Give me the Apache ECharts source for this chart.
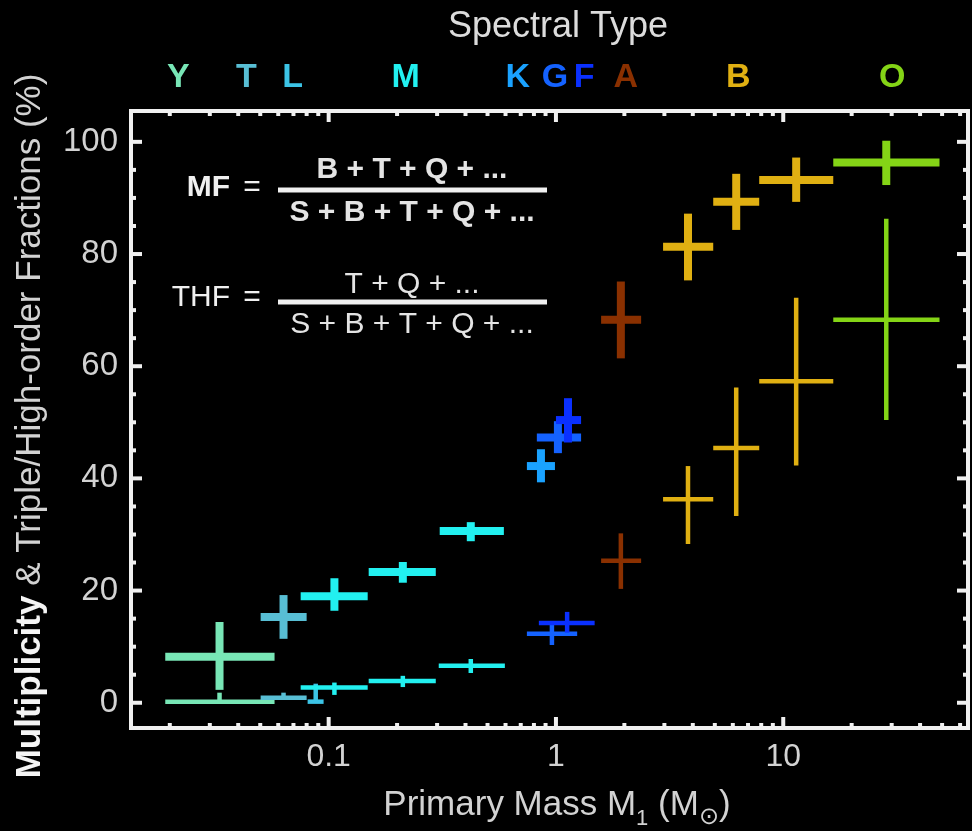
<!DOCTYPE html>
<html>
<head>
<meta charset="utf-8">
<script src="https://cdn.jsdelivr.net/npm/echarts@6/dist/echarts.min.js"></script>
<style>
  html, body { margin: 0; padding: 0; background: #000; }
  #main { width: 972px; height: 831px; }
</style>
</head>
<body>
<div id="main"></div>
<script>
// spectral types along the top and the primary mass each label sits over
var spectralTypes = ['Y', 'T', 'L', 'M', 'K', 'G', 'F', 'A', 'B', 'O'];
var spectralMass = [0.0218, 0.0435, 0.0694, 0.218, 0.68, 0.99, 1.33, 2.03, 6.34, 30.2];

// multiplicity fraction (thick crosses)
var mfType   = ['Y', 'T', 'M', 'M', 'M', 'K', 'G', 'F', 'A', 'B', 'B', 'B', 'O'];
var mfMass   = [0.0331, 0.0633, 0.106, 0.212, 0.422, 0.859, 1.02, 1.13, 1.93, 3.81, 6.21, 11.4, 28.4];
var mfMassLo = [0.0191, 0.0502, 0.0753, 0.150, 0.308, 0.745, 0.824, 1.00, 1.58, 2.96, 4.92, 7.84, 16.6];
var mfMassHi = [0.0578, 0.0800, 0.1485, 0.296, 0.590, 0.990, 1.29, 1.29, 2.37, 4.92, 7.84, 16.6, 48.7];
var mfValue  = [8.2, 15.3, 19.0, 23.3, 30.6, 42.2, 47.3, 50.4, 68.3, 81.3, 89.3, 93.2, 96.3];
var mfLo     = [2.3, 11.4, 16.4, 21.4, 28.8, 39.3, 44.5, 46.4, 61.4, 75.3, 84.3, 89.3, 92.3];
var mfHi     = [14.4, 19.2, 22.2, 25.1, 32.2, 45.2, 50.2, 54.3, 75.1, 87.2, 94.3, 97.2, 100.2];

// triple / high-order fraction (thin crosses)
var thfType   = ['Y', 'T', 'L', 'M', 'M', 'M', 'G', 'F', 'A', 'B', 'B', 'B', 'O'];
var thfMass   = [0.0331, 0.0633, 0.0877, 0.106, 0.212, 0.422, 0.96, 1.12, 1.93, 3.81, 6.21, 11.4, 28.4];
var thfMassLo = [0.0191, 0.0502, 0.0808, 0.0753, 0.150, 0.305, 0.745, 0.841, 1.58, 2.96, 4.92, 7.84, 16.6];
var thfMassHi = [0.0578, 0.0800, 0.0950, 0.1485, 0.296, 0.596, 1.24, 1.48, 2.37, 4.92, 7.84, 16.6, 48.7];
var thfValue  = [0.2, 0.9, 0.2, 2.7, 3.9, 6.6, 12.3, 14.2, 25.3, 36.3, 45.4, 57.3, 68.3];
var thfLo     = [0.2, 0.9, 0.2, 1.4, 2.8, 5.3, 10.3, 12.5, 20.3, 28.3, 33.3, 42.3, 50.4];
var thfHi     = [1.8, 1.8, 3.4, 3.6, 4.8, 7.8, 13.9, 16.2, 30.2, 42.2, 56.2, 72.2, 86.3];

// axis ticks and labels
var xMajorTicks = [0.1, 1, 10];
var xTickLabels = ['0.1', '1', '10'];
var xMinorTicks = [0.02, 0.03, 0.04, 0.05, 0.06, 0.07, 0.08, 0.09,
                   0.2, 0.3, 0.4, 0.5, 0.6, 0.7, 0.8, 0.9,
                   2, 3, 4, 5, 6, 7, 8, 9, 20, 30, 40, 50, 60];
var yMajorTicks = [0, 20, 40, 60, 80, 100];
var yMinorTicks = [5, 10, 15, 25, 30, 35, 45, 50, 55, 65, 70, 75, 85, 90, 95];

var typeColor = {
  Y: '#78e6b6', T: '#58bed4', L: '#3cc4e6', M: '#22f0f0', K: '#1aa2ff',
  G: '#1462ff', F: '#0a30ff', A: '#8a3000', B: '#e0b012', O: '#84d416'
};
var FONT = '"Liberation Sans", Arial, Helvetica, sans-serif';
var WHITE = '#f0f0f0';
var GREY = '#d2d2d2';

function crossData(types, mass, lo, hi, val, vlo, vhi) {
  return mass.map(function (m, i) {
    return [m, lo[i], hi[i], val[i], vlo[i], vhi[i], spectralTypes.indexOf(types[i])];
  });
}

function crossRenderer(width) {
  return function (params, api) {
    var c = api.coord([api.value(0), api.value(3)]);
    var l = api.coord([api.value(1), api.value(3)]);
    var r = api.coord([api.value(2), api.value(3)]);
    var b = api.coord([api.value(0), api.value(4)]);
    var t = api.coord([api.value(0), api.value(5)]);
    var color = typeColor[spectralTypes[api.value(6)]];
    return {
      type: 'group',
      children: [
        { type: 'line', shape: { x1: l[0], y1: c[1], x2: r[0], y2: c[1] },
          style: { stroke: color, lineWidth: width } },
        { type: 'line', shape: { x1: c[0], y1: t[1], x2: c[0], y2: b[1] },
          style: { stroke: color, lineWidth: width } }
      ]
    };
  };
}

// tick marks: [x, y, kind]  kind 0 x-major, 1 x-minor, 2 y-major, 3 y-minor
var tickData = [];
xMajorTicks.forEach(function (v) { tickData.push([v, 50, 0]); });
xMinorTicks.forEach(function (v) { tickData.push([v, 50, 1]); });
yMajorTicks.forEach(function (v) { tickData.push([1, v, 2]); });
yMinorTicks.forEach(function (v) { tickData.push([1, v, 3]); });

function tickRenderer(params, api) {
  var cs = params.coordSys;
  var kind = api.value(2);
  var len = (kind === 0 || kind === 2) ? 11 : 5;
  var p = api.coord([api.value(0), api.value(1)]);
  var segs;
  if (kind < 2) {
    segs = [[p[0], cs.y + cs.height, p[0], cs.y + cs.height - len],
            [p[0], cs.y, p[0], cs.y + len]];
  } else {
    segs = [[cs.x, p[1], cs.x + len, p[1]],
            [cs.x + cs.width, p[1], cs.x + cs.width - len, p[1]]];
  }
  return {
    type: 'group',
    children: segs.map(function (s) {
      return { type: 'line', shape: { x1: s[0], y1: s[1], x2: s[2], y2: s[3] },
               style: { stroke: WHITE, lineWidth: 4 } };
    })
  };
}

function letterRenderer(params, api) {
  var cs = params.coordSys;
  var p = api.coord([api.value(0), 50]);
  var name = spectralTypes[api.value(1)];
  return {
    type: 'text', x: p[0], y: cs.y - 33,
    style: { text: name, fill: typeColor[name], fontSize: 34, fontWeight: 'bold',
             fontFamily: FONT, align: 'center', verticalAlign: 'middle' }
  };
}

var chart = echarts.init(document.getElementById('main'));

chart.setOption({
  backgroundColor: '#000',
  animation: false,
  grid: {
    left: 131, right: 4, top: 111, bottom: 103,
    show: true, borderColor: WHITE, borderWidth: 4, backgroundColor: 'transparent'
  },
  xAxis: {
    type: 'log', min: 0.0135, max: 65,
    axisLine: { show: false }, axisTick: { show: false }, splitLine: { show: false },
    axisLabel: {
      color: GREY, fontSize: 32, fontFamily: FONT, margin: 13,
      formatter: function (v) {
        for (var i = 0; i < xMajorTicks.length; i++) {
          if (Math.abs(v / xMajorTicks[i] - 1) < 1e-6) return xTickLabels[i];
        }
        return '';
      }
    }
  },
  yAxis: {
    type: 'value', min: -4.5, max: 105.5,
    axisLine: { show: false }, axisTick: { show: false }, splitLine: { show: false },
    axisLabel: {
      color: GREY, fontSize: 33, fontFamily: FONT, margin: 13,
      formatter: function (v) {
        return yMajorTicks.indexOf(Math.round(v * 1000) / 1000) >= 0 ? String(Math.round(v)) : '';
      }
    }
  },
  series: [
    {
      type: 'custom', name: 'ticks', silent: true, z: 5,
      encode: { x: 0, y: 1 },
      data: tickData, renderItem: tickRenderer
    },
    {
      type: 'custom', name: 'THF', silent: true, z: 3,
      encode: { x: [0, 1, 2], y: [3, 4, 5] },
      data: crossData(thfType, thfMass, thfMassLo, thfMassHi, thfValue, thfLo, thfHi),
      renderItem: crossRenderer(4.5)
    },
    {
      type: 'custom', name: 'MF', silent: true, z: 4,
      encode: { x: [0, 1, 2], y: [3, 4, 5] },
      data: crossData(mfType, mfMass, mfMassLo, mfMassHi, mfValue, mfLo, mfHi),
      renderItem: crossRenderer(8)
    },
    {
      type: 'custom', name: 'letters', silent: true, clip: false,
      encode: { x: 0 },
      data: spectralMass.map(function (m, i) { return [m, i]; }),
      renderItem: letterRenderer
    }
  ],
  graphic: [
    { type: 'text', x: 558, y: 27,
      style: { text: 'Spectral Type', fill: '#dcdcdc', fontSize: 36, fontFamily: FONT,
               align: 'center', verticalAlign: 'middle' } },
    { type: 'text', x: 30, y: 426, rotation: Math.PI / 2,
      style: {
        text: '{b|Multiplicity}{n| & Triple/High-order Fractions (%)}',
        align: 'center', verticalAlign: 'middle',
        rich: {
          b: { fill: '#f4f4f4', fontSize: 35, fontWeight: 'bold', fontFamily: FONT },
          n: { fill: GREY, fontSize: 35, fontFamily: FONT }
        }
      } },
    { type: 'text', x: 557, y: 805,
      style: {
        text: '{n|Primary Mass M}{s|1}{n| (M}{o|\u2299}{n|)}',
        align: 'center', verticalAlign: 'middle',
        rich: {
          n: { fill: GREY, fontSize: 35, fontFamily: FONT, lineHeight: 50 },
          s: { fill: GREY, fontSize: 22, fontFamily: FONT, padding: [28, 0, 0, 0], verticalAlign: 'top' },
          o: { fill: GREY, fontSize: 24, fontFamily: '"DejaVu Sans", sans-serif', padding: [26, 0, 0, 0], verticalAlign: 'top' }
        }
      } },
    // MF formula
    { type: 'text', x: 230, y: 188,
      style: { text: 'MF', fill: WHITE, fontSize: 30, fontWeight: 'bold', fontFamily: FONT,
               align: 'right', verticalAlign: 'middle' } },
    { type: 'text', x: 252, y: 188,
      style: { text: '=', fill: WHITE, fontSize: 30, fontFamily: FONT,
               align: 'center', verticalAlign: 'middle' } },
    { type: 'line', shape: { x1: 278, y1: 190, x2: 547, y2: 190 },
      style: { stroke: WHITE, lineWidth: 5 } },
    { type: 'text', x: 412, y: 170,
      style: { text: 'B + T + Q + ...', fill: '#e4e4e4', fontSize: 30, fontWeight: 'bold', fontFamily: FONT,
               align: 'center', verticalAlign: 'middle' } },
    { type: 'text', x: 412, y: 213,
      style: { text: 'S + B + T + Q + ...', fill: '#e4e4e4', fontSize: 30, fontWeight: 'bold', fontFamily: FONT,
               align: 'center', verticalAlign: 'middle' } },
    // THF formula
    { type: 'text', x: 230, y: 298,
      style: { text: 'THF', fill: WHITE, fontSize: 30, fontFamily: FONT,
               align: 'right', verticalAlign: 'middle' } },
    { type: 'text', x: 252, y: 298,
      style: { text: '=', fill: WHITE, fontSize: 30, fontFamily: FONT,
               align: 'center', verticalAlign: 'middle' } },
    { type: 'line', shape: { x1: 278, y1: 302, x2: 547, y2: 302 },
      style: { stroke: WHITE, lineWidth: 5 } },
    { type: 'text', x: 412, y: 285,
      style: { text: 'T + Q + ...', fill: '#e4e4e4', fontSize: 30, fontFamily: FONT,
               align: 'center', verticalAlign: 'middle' } },
    { type: 'text', x: 412, y: 325,
      style: { text: 'S + B + T + Q + ...', fill: '#e4e4e4', fontSize: 30, fontFamily: FONT,
               align: 'center', verticalAlign: 'middle' } }
  ]
});
</script>
</body>
</html>
